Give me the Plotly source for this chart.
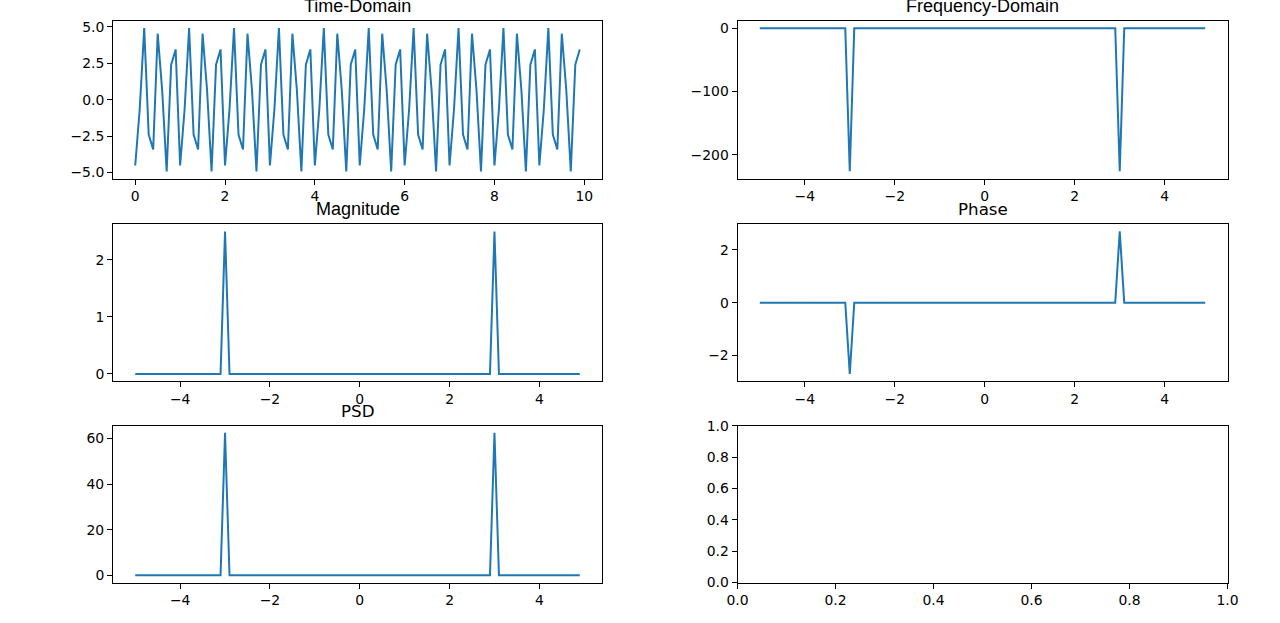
import plotly.graph_objects as go

# ---- data ----
time_s = [
    0.0, 0.1, 0.2, 0.3, 0.4, 0.5, 0.6, 0.7, 0.8, 0.9,
    1.0, 1.1, 1.2, 1.3, 1.4, 1.5, 1.6, 1.7, 1.8, 1.9,
    2.0, 2.1, 2.2, 2.3, 2.4, 2.5, 2.6, 2.7, 2.8, 2.9,
    3.0, 3.1, 3.2, 3.3, 3.4, 3.5, 3.6, 3.7, 3.8, 3.9,
    4.0, 4.1, 4.2, 4.3, 4.4, 4.5, 4.6, 4.7, 4.8, 4.9,
    5.0, 5.1, 5.2, 5.3, 5.4, 5.5, 5.6, 5.7, 5.8, 5.9,
    6.0, 6.1, 6.2, 6.3, 6.4, 6.5, 6.6, 6.7, 6.8, 6.9,
    7.0, 7.1, 7.2, 7.3, 7.4, 7.5, 7.6, 7.7, 7.8, 7.9,
    8.0, 8.1, 8.2, 8.3, 8.4, 8.5, 8.6, 8.7, 8.8, 8.9,
    9.0, 9.1, 9.2, 9.3, 9.4, 9.5, 9.6, 9.7, 9.8, 9.9,
]
signal = [
    -4.52, -0.64, 4.91, -2.40, -3.42, 4.53, 0.65, -4.92, 2.40, 3.45,
    -4.52, -0.64, 4.91, -2.40, -3.42, 4.53, 0.65, -4.92, 2.40, 3.45,
    -4.52, -0.64, 4.91, -2.40, -3.42, 4.53, 0.65, -4.92, 2.40, 3.45,
    -4.52, -0.64, 4.91, -2.40, -3.42, 4.53, 0.65, -4.92, 2.40, 3.45,
    -4.52, -0.64, 4.91, -2.40, -3.42, 4.53, 0.65, -4.92, 2.40, 3.45,
    -4.52, -0.64, 4.91, -2.40, -3.42, 4.53, 0.65, -4.92, 2.40, 3.45,
    -4.52, -0.64, 4.91, -2.40, -3.42, 4.53, 0.65, -4.92, 2.40, 3.45,
    -4.52, -0.64, 4.91, -2.40, -3.42, 4.53, 0.65, -4.92, 2.40, 3.45,
    -4.52, -0.64, 4.91, -2.40, -3.42, 4.53, 0.65, -4.92, 2.40, 3.45,
    -4.52, -0.64, 4.91, -2.40, -3.42, 4.53, 0.65, -4.92, 2.40, 3.45,
]
freq_hz = [
    -5.0, -4.9, -4.8, -4.7, -4.6, -4.5, -4.4, -4.3, -4.2, -4.1,
    -4.0, -3.9, -3.8, -3.7, -3.6, -3.5, -3.4, -3.3, -3.2, -3.1,
    -3.0, -2.9, -2.8, -2.7, -2.6, -2.5, -2.4, -2.3, -2.2, -2.1,
    -2.0, -1.9, -1.8, -1.7, -1.6, -1.5, -1.4, -1.3, -1.2, -1.1,
    -1.0, -0.9, -0.8, -0.7, -0.6, -0.5, -0.4, -0.3, -0.2, -0.1,
    0.0, 0.1, 0.2, 0.3, 0.4, 0.5, 0.6, 0.7, 0.8, 0.9,
    1.0, 1.1, 1.2, 1.3, 1.4, 1.5, 1.6, 1.7, 1.8, 1.9,
    2.0, 2.1, 2.2, 2.3, 2.4, 2.5, 2.6, 2.7, 2.8, 2.9,
    3.0, 3.1, 3.2, 3.3, 3.4, 3.5, 3.6, 3.7, 3.8, 3.9,
    4.0, 4.1, 4.2, 4.3, 4.4, 4.5, 4.6, 4.7, 4.8, 4.9,
]
spectrum_real = [
    0, 0, 0, 0, 0, 0, 0, 0, 0, 0,
    0, 0, 0, 0, 0, 0, 0, 0, 0, 0,
    -226, 0, 0, 0, 0, 0, 0, 0, 0, 0,
    0, 0, 0, 0, 0, 0, 0, 0, 0, 0,
    0, 0, 0, 0, 0, 0, 0, 0, 0, 0,
    0, 0, 0, 0, 0, 0, 0, 0, 0, 0,
    0, 0, 0, 0, 0, 0, 0, 0, 0, 0,
    0, 0, 0, 0, 0, 0, 0, 0, 0, 0,
    -226, 0, 0, 0, 0, 0, 0, 0, 0, 0,
    0, 0, 0, 0, 0, 0, 0, 0, 0, 0,
]
magnitude = [
    0, 0, 0, 0, 0, 0, 0, 0, 0, 0,
    0, 0, 0, 0, 0, 0, 0, 0, 0, 0,
    2.5, 0, 0, 0, 0, 0, 0, 0, 0, 0,
    0, 0, 0, 0, 0, 0, 0, 0, 0, 0,
    0, 0, 0, 0, 0, 0, 0, 0, 0, 0,
    0, 0, 0, 0, 0, 0, 0, 0, 0, 0,
    0, 0, 0, 0, 0, 0, 0, 0, 0, 0,
    0, 0, 0, 0, 0, 0, 0, 0, 0, 0,
    2.5, 0, 0, 0, 0, 0, 0, 0, 0, 0,
    0, 0, 0, 0, 0, 0, 0, 0, 0, 0,
]
phase = [
    0, 0, 0, 0, 0, 0, 0, 0, 0, 0,
    0, 0, 0, 0, 0, 0, 0, 0, 0, 0,
    -2.7, 0, 0, 0, 0, 0, 0, 0, 0, 0,
    0, 0, 0, 0, 0, 0, 0, 0, 0, 0,
    0, 0, 0, 0, 0, 0, 0, 0, 0, 0,
    0, 0, 0, 0, 0, 0, 0, 0, 0, 0,
    0, 0, 0, 0, 0, 0, 0, 0, 0, 0,
    0, 0, 0, 0, 0, 0, 0, 0, 0, 0,
    2.7, 0, 0, 0, 0, 0, 0, 0, 0, 0,
    0, 0, 0, 0, 0, 0, 0, 0, 0, 0,
]
psd = [
    0, 0, 0, 0, 0, 0, 0, 0, 0, 0,
    0, 0, 0, 0, 0, 0, 0, 0, 0, 0,
    62.5, 0, 0, 0, 0, 0, 0, 0, 0, 0,
    0, 0, 0, 0, 0, 0, 0, 0, 0, 0,
    0, 0, 0, 0, 0, 0, 0, 0, 0, 0,
    0, 0, 0, 0, 0, 0, 0, 0, 0, 0,
    0, 0, 0, 0, 0, 0, 0, 0, 0, 0,
    0, 0, 0, 0, 0, 0, 0, 0, 0, 0,
    62.5, 0, 0, 0, 0, 0, 0, 0, 0, 0,
    0, 0, 0, 0, 0, 0, 0, 0, 0, 0,
]
titles = ["Time-Domain", "Frequency-Domain", "Magnitude", "Phase", "PSD", ""]

# ---- layout geometry (pixels of the 1280x623 page) ----
W, H = 1280, 623
col_px = [(113, 602), (737.5, 1227.5)]
row_px = [(21, 178.5), (224.3, 381), (425.7, 582.5)]

LINE = "#1f77b4"
TICKFONT = dict(family="DejaVu Sans", size=13.9, color="black")

fig = go.Figure()

panels = [
    (0, 0, time_s, signal, [-0.495, 10.395], [-5.41, 5.40],
     dict(tickvals=[0, 2, 4, 6, 8, 10]), dict(tickvals=[-5, -2.5, 0, 2.5, 5], tickformat=".1f"),
     ("Liberation Sans", 18)),
    (0, 1, freq_hz, spectrum_real, [-5.495, 5.395], [-237.3, 11.3],
     dict(tickvals=[-4, -2, 0, 2, 4]), dict(tickvals=[-200, -100, 0]), ("Liberation Sans", 18)),
    (1, 0, freq_hz, magnitude, [-5.495, 5.395], [-0.125, 2.625],
     dict(tickvals=[-4, -2, 0, 2, 4]), dict(tickvals=[0, 1, 2]), ("Liberation Sans", 18)),
    (1, 1, freq_hz, phase, [-5.495, 5.395], [-2.97, 2.97],
     dict(tickvals=[-4, -2, 0, 2, 4]), dict(tickvals=[-2, 0, 2]), ("DejaVu Sans", 16.7)),
    (2, 0, freq_hz, psd, [-5.495, 5.395], [-3.125, 65.625],
     dict(tickvals=[-4, -2, 0, 2, 4]), dict(tickvals=[0, 20, 40, 60]), ("DejaVu Sans", 16.7)),
    (2, 1, None, None, [0, 1], [0, 1],
     dict(tickvals=[0, 0.2, 0.4, 0.6, 0.8, 1.0], tickformat=".1f"),
     dict(tickvals=[0, 0.2, 0.4, 0.6, 0.8, 1.0], tickformat=".1f"), ("DejaVu Sans", 16.7)),
]

annotations = []
for i, (r, c, xs, ys, xr, yr, xt, yt, tfont) in enumerate(panels):
    n = "" if i == 0 else str(i + 1)
    x0, x1 = col_px[c]
    t0, t1 = row_px[r]
    xdom = [x0 / W, x1 / W]
    ydom = [1 - t1 / H, 1 - t0 / H]
    common = dict(showline=True, mirror=True, linecolor="black", linewidth=1,
                  ticks="outside", ticklen=5, tickwidth=1, tickcolor="black",
                  showgrid=False, zeroline=False, tickfont=TICKFONT, fixedrange=True,
                  automargin=False)
    fig.layout["xaxis" + n] = dict(domain=xdom, range=xr, anchor="y" + n, **common, **xt)
    fig.layout["yaxis" + n] = dict(domain=ydom, range=yr, anchor="x" + n, **common, **yt)
    if xs is not None:
        fig.add_trace(go.Scatter(x=xs, y=ys, mode="lines", xaxis="x" + n, yaxis="y" + n,
                                 line=dict(color=LINE, width=2), showlegend=False,
                                 hoverinfo="skip"))
    else:
        # empty axes: an invisible trace so the axes are drawn
        fig.add_trace(go.Scatter(x=[None], y=[None], mode="lines", xaxis="x" + n,
                                 yaxis="y" + n, showlegend=False, hoverinfo="skip"))
    if titles[i]:
        annotations.append(dict(text=titles[i], xref="paper", yref="paper",
                                x=(xdom[0] + xdom[1]) / 2, y=ydom[1],
                                xanchor="center", yanchor="bottom", yshift=3,
                                showarrow=False,
                                font=dict(family=tfont[0], size=tfont[1], color="black")))

fig.update_layout(width=W, height=H, margin=dict(l=0, r=0, t=0, b=0),
                  paper_bgcolor="white", plot_bgcolor="white",
                  annotations=annotations, showlegend=False)

fig.write_html("out.html", config={"displayModeBar": False},
               post_script="document.body.style.margin='0';document.body.style.padding='0';")
